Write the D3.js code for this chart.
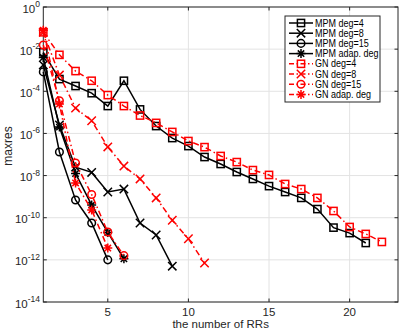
<!DOCTYPE html>
<html>
<head>
<meta charset="utf-8">
<script src="https://cdn.jsdelivr.net/npm/d3@7"></script>
<style>
  body { margin: 0; background: #fff; }
  svg { display: block; font-family: "Liberation Sans", Arial, sans-serif; }
</style>
</head>
<body>
<div id="chart"></div>
<script>
// log10(maxres), index 0 = 1 RR
var mpm4  = [-2.15, -3.42, -3.75, -4.09, -4.7, -3.5, -4.86, -5.65, -6.22, -6.6, -7.12, -7.45, -7.83, -8.16, -8.5, -8.78, -9.06, -9.59, -10.47, -10.73, -11.2];
var mpm8  = [-2.75, -5.6, -7.6, -7.85, -8.78, -8.64, -10.25, -10.82, -12.3];
var mpm15 = [-3.08, -6.88, -9.16, -10.25, -12.0];
var mpmAd = [-2.4, -5.7, -7.9, -9.4, -10.7, -11.95];
var gn4   = [-1.2, -2.27, -3.04, -3.5, -4.18, -4.7, -5.15, -5.5, -5.93, -6.36, -6.65, -7.07, -7.36, -7.74, -7.97, -8.4, -8.64, -9.06, -9.68, -10.44, -10.77, -11.15];
var gn8   = [-1.2, -3.23, -4.8, -5.4, -6.64, -7.55, -8.16, -9.06, -10.12, -11.0, -12.15];
var gn15  = [-1.8, -4.45, -7.4, -8.9, -10.68, -11.8];
var gnAd  = [-1.1, -4.6, -8.35, -9.63, -11.44];

var xTicks = [5, 10, 15, 20];
var yTicks = [0, -2, -4, -6, -8, -10, -12, -14];

var series = [
    {name: "MPM deg=4",     vals: mpm4,  color: "#000", dash: null, marker: "square"},
    {name: "MPM deg=8",     vals: mpm8,  color: "#000", dash: null, marker: "x"},
    {name: "MPM deg=15",    vals: mpm15, color: "#000", dash: null, marker: "circle"},
    {name: "MPM adap. deg", vals: mpmAd, color: "#000", dash: null, marker: "star"},
    {name: "GN deg=4",      vals: gn4,   color: "#f00", dash: "6,3,1.5,3", marker: "square"},
    {name: "GN deg=8",      vals: gn8,   color: "#f00", dash: "6,3,1.5,3", marker: "x"},
    {name: "GN deg=15",     vals: gn15,  color: "#f00", dash: "6,3,1.5,3", marker: "circle"},
    {name: "GN adap. deg",  vals: gnAd,  color: "#f00", dash: "6,3,1.5,3", marker: "star"}
];

var W = 399, H = 332,
    pL = 43.3, pR = 398, pT = 7, pB = 302;

var svg = d3.select("#chart").append("svg")
    .attr("width", W)
    .attr("height", H);

var x = d3.scaleLinear().domain([1, 23]).range([pL, pR]);
var y = d3.scaleLog().domain([1, 1e-14]).range([pT, pB]);

// grid
var grid = svg.append("g").attr("stroke", "#e3e3e3").attr("stroke-width", 1);
xTicks.forEach(function(t) {
    grid.append("line").attr("x1", x(t)).attr("x2", x(t)).attr("y1", pT).attr("y2", pB);
});
yTicks.forEach(function(t) {
    grid.append("line").attr("x1", pL).attr("x2", pR).attr("y1", y(Math.pow(10, t))).attr("y2", y(Math.pow(10, t)));
});

// box + inward ticks
var ax = svg.append("g").attr("stroke", "#262626").attr("stroke-width", 1).attr("fill", "none");
ax.append("rect").attr("x", pL).attr("y", pT).attr("width", pR - pL).attr("height", pB - pT);
xTicks.forEach(function(t) {
    ax.append("line").attr("x1", x(t)).attr("x2", x(t)).attr("y1", pB).attr("y2", pB - 3.5);
    ax.append("line").attr("x1", x(t)).attr("x2", x(t)).attr("y1", pT).attr("y2", pT + 3.5);
});
yTicks.forEach(function(t) {
    var yy = y(Math.pow(10, t));
    ax.append("line").attr("x1", pL).attr("x2", pL + 3.5).attr("y1", yy).attr("y2", yy);
    ax.append("line").attr("x1", pR).attr("x2", pR - 3.5).attr("y1", yy).attr("y2", yy);
});

// tick labels
svg.selectAll("text.xt").data(xTicks).enter().append("text")
    .attr("class", "xt")
    .attr("x", function(d) { return x(d); })
    .attr("y", 315.5)
    .attr("text-anchor", "middle")
    .attr("font-size", 11.5)
    .attr("fill", "#262626")
    .text(function(d) { return d; });

var yt = svg.selectAll("text.yt").data(yTicks).enter().append("text")
    .attr("class", "yt")
    .attr("x", 40)
    .attr("y", function(d) { return y(Math.pow(10, d)) + 5.5; })
    .attr("text-anchor", "end")
    .attr("fill", "#262626")
    .attr("font-size", 11.5);
yt.append("tspan").text("10");
yt.append("tspan").attr("dy", -5.5).attr("font-size", 8.5).text(function(d) { return d; });

// axis labels
svg.append("text")
    .attr("x", (pL + pR) / 2)
    .attr("y", 328)
    .attr("text-anchor", "middle")
    .attr("font-size", 11.5)
    .attr("fill", "#262626")
    .text("the number of RRs");

svg.append("text")
    .attr("transform", "translate(12,146) rotate(-90)")
    .attr("text-anchor", "middle")
    .attr("font-size", 12)
    .attr("fill", "#262626")
    .text("maxres");

// markers
function drawMarker(g, kind, cx, cy, color) {
    var s = 3.6;
    if (kind == "square") {
        g.append("rect").attr("x", cx - s).attr("y", cy - s).attr("width", 2 * s).attr("height", 2 * s)
            .attr("fill", "none").attr("stroke", color).attr("stroke-width", 1.5);
    } else if (kind == "circle") {
        g.append("circle").attr("cx", cx).attr("cy", cy).attr("r", 3.8)
            .attr("fill", "none").attr("stroke", color).attr("stroke-width", 1.5);
    } else if (kind == "x") {
        var a = 4.2;
        g.append("path").attr("d", "M" + (cx - a) + "," + (cy - a) + "L" + (cx + a) + "," + (cy + a) +
            "M" + (cx - a) + "," + (cy + a) + "L" + (cx + a) + "," + (cy - a))
            .attr("stroke", color).attr("stroke-width", 1.5);
    } else {
        var b = 4.5, c = 3.2;
        g.append("path").attr("d", "M" + (cx - b) + "," + cy + "L" + (cx + b) + "," + cy +
            "M" + cx + "," + (cy - b) + "L" + cx + "," + (cy + b) +
            "M" + (cx - c) + "," + (cy - c) + "L" + (cx + c) + "," + (cy + c) +
            "M" + (cx - c) + "," + (cy + c) + "L" + (cx + c) + "," + (cy - c))
            .attr("stroke", color).attr("stroke-width", 1.5);
    }
}

var line = d3.line()
    .x(function(d, i) { return x(i + 1); })
    .y(function(d) { return y(Math.pow(10, d)); });

var plot = svg.append("g");
series.forEach(function(s) {
    var g = plot.append("g");
    g.append("path")
        .attr("d", line(s.vals))
        .attr("fill", "none")
        .attr("stroke", s.color)
        .attr("stroke-width", 1.5)
        .attr("stroke-dasharray", s.dash);
    s.vals.forEach(function(v, i) {
        drawMarker(g, s.marker, x(i + 1), y(Math.pow(10, v)), s.color);
    });
});

// legend
var lg = svg.append("g");
lg.append("rect")
    .attr("x", 285).attr("y", 16).attr("width", 95).attr("height", 86)
    .attr("fill", "#fff").attr("stroke", "#262626").attr("stroke-width", 1);
series.forEach(function(s, i) {
    var ly = 23 + i * 10.2;
    lg.append("line")
        .attr("x1", 289).attr("x2", 313).attr("y1", ly).attr("y2", ly)
        .attr("stroke", s.color).attr("stroke-width", 1.5)
        .attr("stroke-dasharray", s.dash ? "5,2.5,1.5,2.5" : null);
    drawMarker(lg, s.marker, 301, ly, s.color);
    lg.append("text")
        .attr("transform", "translate(315," + (ly + 3.6) + ") scale(0.9,1)")
        .attr("font-size", 10)
        .attr("fill", "#000")
        .text(s.name);
});
</script>
</body>
</html>
